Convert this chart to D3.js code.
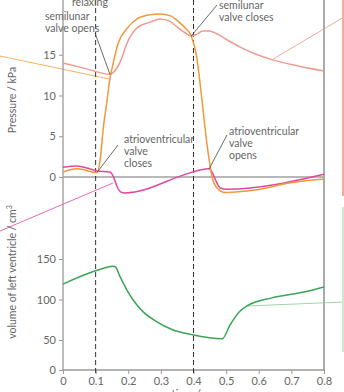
<!DOCTYPE html>
<html>
<head>
<meta charset="utf-8">
<script src="https://cdn.jsdelivr.net/npm/d3@7"></script>
<style>
  html, body { margin: 0; padding: 0; background: #fff; overflow: hidden; }
  text { font-family: Lato, "Open Sans", sans-serif; fill: #666; }
</style>
</head>
<body>
<svg id="chart" width="344" height="392"></svg>
<script>
// Cardiac cycle: pressures (kPa) and left-ventricle volume (cm³) against time (s)
const timeTicks = [0, 0.1, 0.2, 0.3, 0.4, 0.5, 0.6, 0.7, 0.8];
const pressureTicks = [0, 5, 10, 15];
const volumeTicks = [0, 50, 100, 150];
const valveEvents = [0.1, 0.4];

// aortic pressure [t, kPa]
const aortaPressure = [
  [0, 14.0], [0.07, 13.3], [0.144, 12.6], [0.156, 12.9], [0.175, 14.1], [0.196, 16.4],
  [0.227, 18.3], [0.267, 19.0], [0.298, 19.4], [0.328, 19.1], [0.353, 18.3],
  [0.374, 17.7], [0.393, 17.3], [0.41, 17.5], [0.428, 17.9], [0.448, 17.9],
  [0.47, 17.6], [0.5, 16.9], [0.54, 16.0], [0.59, 15.1], [0.641, 14.4],
  [0.7, 13.8], [0.8, 13.0]
];
// left ventricular pressure [t, kPa]
const ventriclePressure = [
  [0, 0.6], [0.043, 1.0], [0.105, 0.55], [0.115, 2.5], [0.123, 5.8], [0.135, 9.4],
  [0.144, 12.1], [0.153, 13.8], [0.169, 16.4], [0.196, 18.2], [0.227, 19.4],
  [0.267, 19.9], [0.298, 20.0], [0.328, 19.8], [0.353, 19.1], [0.374, 18.3],
  [0.393, 17.3], [0.411, 14.4], [0.426, 9.4], [0.436, 5.8], [0.448, 2.1],
  [0.457, 0.0], [0.472, -1.35], [0.497, -1.9], [0.589, -1.6], [0.693, -0.75], [0.8, -0.25]
];
// left atrial pressure [t, kPa]
const atriumPressure = [
  [0, 1.2], [0.043, 1.35], [0.105, 0.75], [0.144, 0.6], [0.156, -0.1], [0.166, -1.2],
  [0.178, -1.85], [0.19, -1.95], [0.396, 0.6], [0.42, 0.85], [0.448, 1.0],
  [0.457, 0.6], [0.469, -0.5], [0.482, -1.35], [0.503, -1.5], [0.8, 0.35]
];
// left ventricle volume [t, cm³]
const ventricleVolume = [
  [0, 119], [0.105, 136], [0.153, 141], [0.16, 140.5], [0.175, 128], [0.196, 111.7],
  [0.215, 99.4], [0.245, 85], [0.288, 72.5], [0.334, 63], [0.396, 56.5],
  [0.488, 51.5], [0.512, 68.5], [0.54, 84.6], [0.564, 92], [0.64, 102],
  [0.742, 109.5], [0.8, 115.5]
];

const svg = d3.select("#chart");

const x = d3.scaleLinear().domain([0, 0.8]).range([63, 324]);
const yP = d3.scaleLinear().domain([0, 15]).range([177, 54.75]);
const yV = d3.scaleLinear().domain([0, 50, 150]).range([370, 340, 259]);

const colors = {
  aorta: "#ee9b90",
  ventricle: "#f0993a",
  atrium: "#e0489e",
  volume: "#3aa655"
};

// leader lines running to labels outside the frame
const leaders = [
  { from: [0, 56], to: [x(0.144), yP(12.0)], color: "#f5b060", w: 1 },
  { from: [0, 231], to: [x(0.153), yP(-0.74)], color: "#e86aae", w: 1 },
  { from: [344, 17], to: [x(0.641), yP(14.4)], color: "#f2a89c", w: 1 },
  { from: [344, 302], to: [x(0.564), yV(92)], color: "#9fd5a9", w: 1.2 }
];
leaders.forEach(l => {
  svg.append("line")
    .attr("x1", l.from[0]).attr("y1", l.from[1])
    .attr("x2", l.to[0]).attr("y2", l.to[1])
    .attr("stroke", l.color).attr("stroke-width", l.w);
});

// side brackets
svg.append("rect").attr("x", 342).attr("y", 0).attr("width", 2.5).attr("height", 196).attr("fill", "#f1aba2");
svg.append("rect").attr("x", 342).attr("y", 207).attr("width", 2.5).attr("height", 145).attr("fill", "#cde9d2");

// frame: left axis line and right border
svg.append("line").attr("x1", 63).attr("x2", 63).attr("y1", 0).attr("y2", 370)
  .attr("stroke", "#999").attr("stroke-width", 1.3);
svg.append("line").attr("x1", 324).attr("x2", 324).attr("y1", 0).attr("y2", 371)
  .attr("stroke", "#aaa").attr("stroke-width", 2);

// zero pressure line
svg.append("line").attr("x1", x(0)).attr("x2", x(0.8)).attr("y1", yP(0)).attr("y2", yP(0))
  .attr("stroke", "#a0a0a0").attr("stroke-width", 1.5);

// axes
const fmtTime = d => d === 0 ? "0" : d3.format(".1f")(d);
const xAxis = svg.append("g").attr("transform", "translate(0,370)")
  .call(d3.axisBottom(x).tickValues(timeTicks).tickFormat(fmtTime).tickSize(4).tickPadding(3));
const pAxis = svg.append("g").attr("transform", "translate(63,0)")
  .call(d3.axisLeft(yP).tickValues(pressureTicks).tickSize(4).tickPadding(3));
const vAxis = svg.append("g").attr("transform", "translate(63,0)")
  .call(d3.axisLeft(yV).tickValues(volumeTicks).tickSize(4).tickPadding(3));
[xAxis, pAxis, vAxis].forEach(g => {
  g.select(".domain").remove();
  g.selectAll(".tick line").attr("stroke", "#999");
  g.selectAll(".tick text").attr("fill", "#666").style("font-size", "11px")
    .style("font-family", "Lato, 'Open Sans', sans-serif");
});
svg.append("line").attr("x1", 63).attr("x2", 324).attr("y1", 370).attr("y2", 370)
  .attr("stroke", "#999").attr("stroke-width", 1.3);

// axis titles
svg.append("text").attr("transform", "translate(16,100) rotate(-90)")
  .attr("text-anchor", "middle").style("font-size", "10.5px").text("Pressure / kPa");
const vt = svg.append("text").attr("transform", "translate(16,272) rotate(-90)")
  .attr("text-anchor", "middle").style("font-size", "10.5px");
vt.append("tspan").text("volume of left ventricle / cm");
vt.append("tspan").attr("dy", -4).style("font-size", "7px").text("3");
svg.append("text").attr("x", 190).attr("y", 398).attr("text-anchor", "middle")
  .style("font-size", "11px").text("time / s");

// valve event markers
valveEvents.forEach(t => {
  svg.append("line").attr("x1", x(t)).attr("x2", x(t)).attr("y1", 0).attr("y2", 374)
    .attr("stroke", "#333").attr("stroke-width", 1).attr("stroke-dasharray", "5,3");
});

// curves
const lineP = d3.line().x(d => x(d[0])).y(d => yP(d[1])).curve(d3.curveMonotoneX);
const lineV = d3.line().x(d => x(d[0])).y(d => yV(d[1])).curve(d3.curveMonotoneX);
const draw = (data, gen, color) => svg.append("path").datum(data)
  .attr("d", gen).attr("fill", "none").attr("stroke", color)
  .attr("stroke-width", 1.5).attr("stroke-linejoin", "round");
draw(aortaPressure, lineP, colors.aorta);
draw(atriumPressure, lineP, colors.atrium);
draw(ventriclePressure, lineP, colors.ventricle);
draw(ventricleVolume, lineV, colors.volume);

// annotations
const notes = [
  { lines: ["relaxing"], x: 72, y: 6, from: null },
  { lines: ["semilunar", "valve opens"], x: 45, y: 19.5, from: [95, 33], at: [0.144, 12.6] },
  { lines: ["semilunar", "valve closes"], x: 219, y: 8.5, from: [217, 5], at: [0.393, 17.3] },
  { lines: ["atrioventricular", "valve", "closes"], x: 124, y: 143, from: [118, 145], at: [0.105, 0.6] },
  { lines: ["atrioventricular", "valve", "opens"], x: 229, y: 135, from: [227, 135], at: [0.448, 1.0] }
];
notes.forEach(n => {
  if (n.from) {
    svg.append("line").attr("x1", n.from[0]).attr("y1", n.from[1])
      .attr("x2", x(n.at[0])).attr("y2", yP(n.at[1]))
      .attr("stroke", "#444").attr("stroke-width", 0.8);
  }
  const t = svg.append("text").attr("x", n.x).attr("y", n.y).style("font-size", "10.5px");
  n.lines.forEach((s, i) => t.append("tspan").attr("x", n.x).attr("dy", i ? 12 : 0).text(s));
});
</script>
</body>
</html>
